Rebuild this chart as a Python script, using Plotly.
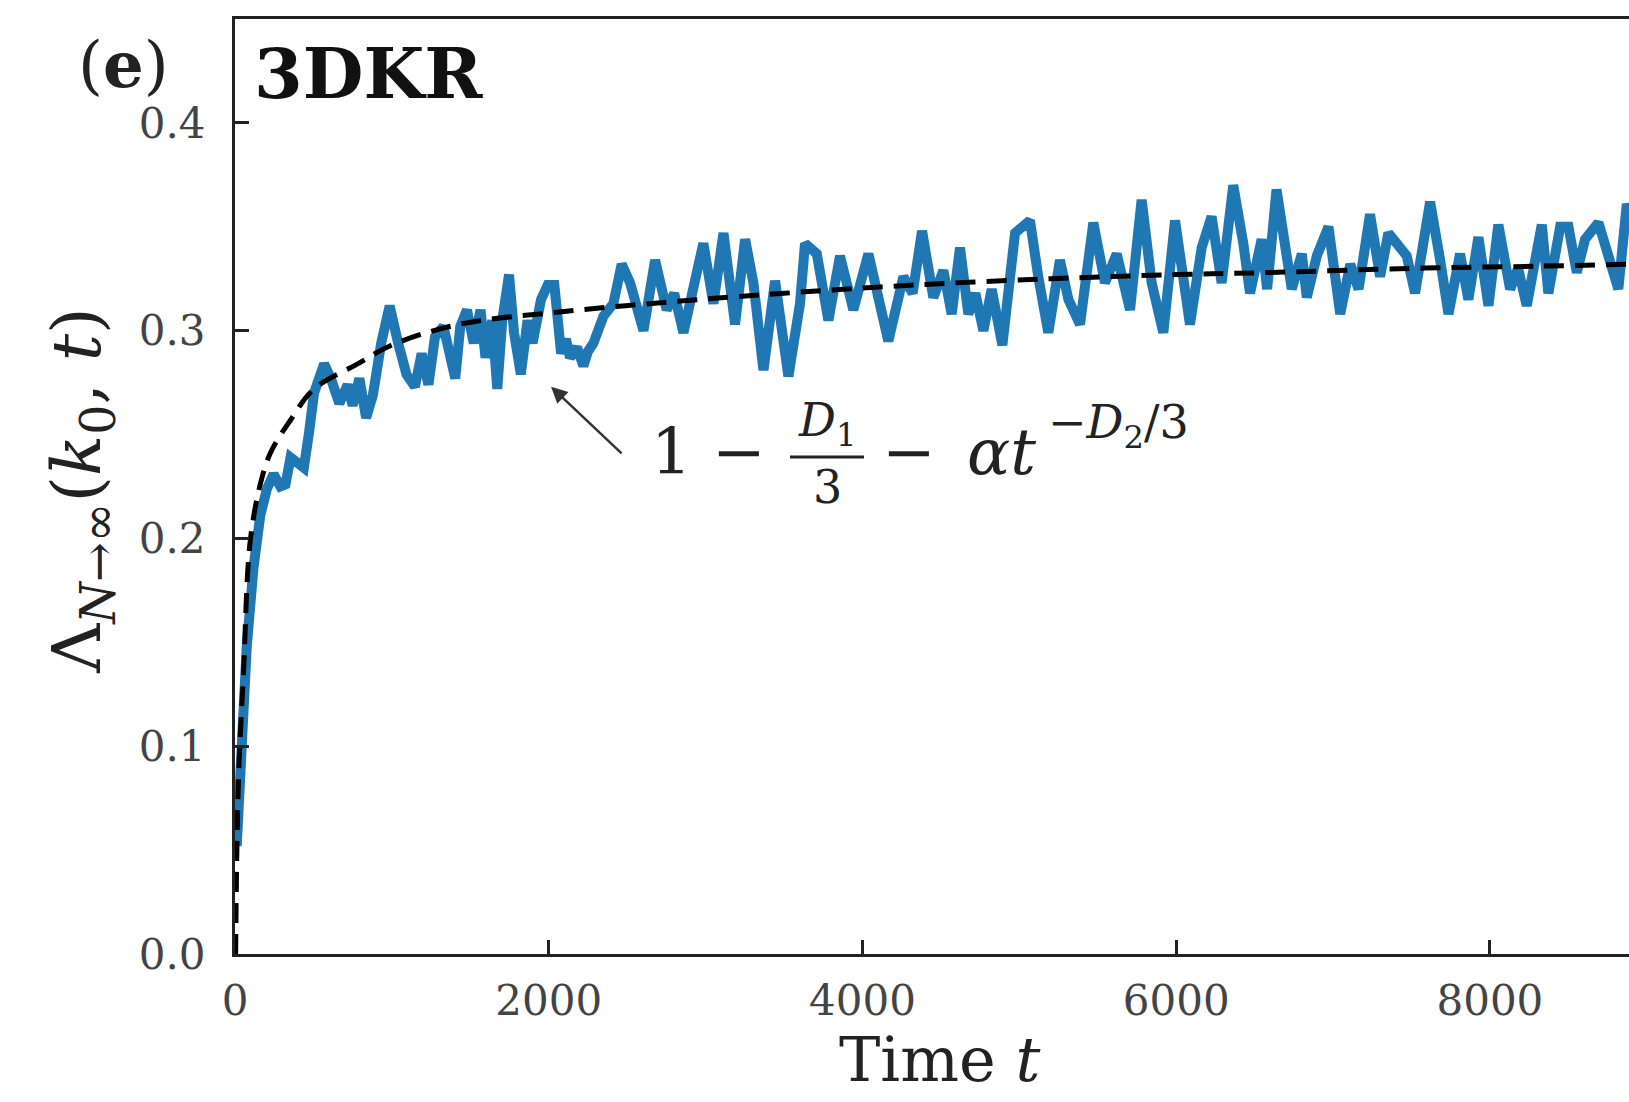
import plotly.graph_objects as go

# ---- data ----
t_data = [11, 43, 75, 118, 161, 204, 246, 289, 322, 354, 397, 439, 472, 504, 568, 611, 665, 718, 750, 793,
          836, 879, 932, 986, 1040, 1093, 1147, 1190, 1233, 1275, 1329, 1361, 1404, 1436, 1479, 1522, 1565,
          1597, 1640, 1672, 1704, 1747, 1779, 1822, 1865, 1897, 1951, 1994, 2036, 2079, 2110, 2136,
          2180, 2221, 2250, 2285, 2349, 2412, 2465, 2519, 2604, 2678, 2752, 2800, 2859, 2944, 2986, 3050, 3114,
          3188, 3252, 3305, 3369, 3443, 3528, 3602, 3634, 3709, 3783, 3857, 3942, 4038, 4100, 4165, 4261, 4320,
          4380, 4452, 4516, 4569, 4622, 4675, 4720, 4771, 4824, 4892, 4973, 5068, 5121, 5185, 5259, 5313, 5387,
          5472, 5546, 5621, 5706, 5780, 5844, 5918, 5993, 6088, 6163, 6226, 6290, 6364, 6428, 6471, 6545, 6580,
          6640, 6737, 6801, 6833, 6897, 6971, 7046, 7110, 7163, 7236, 7300, 7353, 7406, 7470, 7523, 7619, 7683,
          7736, 7810, 7863, 7927, 7991, 8054, 8129, 8180, 8235, 8331, 8373, 8448, 8501, 8554, 8607, 8692, 8745,
          8819, 8873, 8920]
lam_data = [0.052, 0.110, 0.148, 0.186, 0.211, 0.224, 0.231, 0.225, 0.226, 0.239, 0.236, 0.234, 0.251, 0.270,
            0.284, 0.277, 0.265, 0.274, 0.264, 0.277, 0.258, 0.269, 0.294, 0.312, 0.294, 0.279, 0.273, 0.289,
            0.274, 0.297, 0.302, 0.289, 0.277, 0.302, 0.310, 0.294, 0.310, 0.287, 0.305, 0.272, 0.305, 0.327,
            0.299, 0.279, 0.305, 0.294, 0.315, 0.322, 0.322, 0.289, 0.296, 0.287,
            0.292, 0.283, 0.290, 0.294, 0.307, 0.313, 0.332, 0.323, 0.300, 0.334, 0.310, 0.318, 0.299, 0.328,
            0.342, 0.313, 0.347, 0.303, 0.344, 0.323, 0.281, 0.324, 0.278, 0.313, 0.342, 0.337, 0.305, 0.336,
            0.310, 0.337, 0.318, 0.295, 0.326, 0.318, 0.348, 0.316, 0.329, 0.308, 0.340, 0.308, 0.318, 0.300,
            0.320, 0.293, 0.347, 0.353, 0.326, 0.299, 0.334, 0.315, 0.303, 0.352, 0.323, 0.337, 0.310, 0.363,
            0.323, 0.299, 0.353, 0.303, 0.340, 0.355, 0.323, 0.370, 0.342, 0.318, 0.344, 0.320, 0.368, 0.320,
            0.337, 0.316, 0.336, 0.350, 0.308, 0.332, 0.320, 0.356, 0.326, 0.347, 0.342, 0.336, 0.318, 0.362,
            0.334, 0.308, 0.337, 0.315, 0.345, 0.312, 0.351, 0.320, 0.330, 0.312, 0.351, 0.318, 0.350, 0.350,
            0.328, 0.344, 0.352, 0.339, 0.320, 0.361, 0.350]

t_fit = [4, 12, 25, 54, 96, 161, 225, 354, 504, 782, 997, 1425, 2069, 2800, 3500, 4335, 5200, 6000,
         6600, 7500, 8300, 8900]
lam_fit = [0.0, 0.05, 0.09, 0.135, 0.198, 0.226, 0.241, 0.257, 0.272, 0.284, 0.293, 0.303, 0.309, 0.314,
           0.318, 0.322, 0.325, 0.327, 0.328, 0.330, 0.331, 0.332]

x_ticks = [0, 2000, 4000, 6000, 8000]
y_ticks = [0.0, 0.1, 0.2, 0.3, 0.4]

SERIF = "DejaVu Serif"

fig = go.Figure()
fig.add_trace(go.Scatter(x=t_data, y=lam_data, mode="lines",
                         line=dict(color="#1f77b4", width=10), showlegend=False))
fig.add_trace(go.Scatter(x=t_fit, y=lam_fit, mode="lines", line_shape="spline",
                         line=dict(color="black", width=5, dash="20px,11px"), showlegend=False))

fig.update_layout(
    width=1629, height=1102,
    margin=dict(l=235, r=0, t=19, b=148),
    paper_bgcolor="white", plot_bgcolor="white",
    font=dict(family=SERIF, color="#222"),
    xaxis=dict(range=[0, 8887], tickvals=x_ticks, ticktext=[str(v) for v in x_ticks],
               ticks="inside", ticklen=14, tickwidth=3, tickcolor="#222",
               showline=True, linewidth=3, linecolor="#222", mirror=True,
               showgrid=False, zeroline=False, tickfont=dict(size=42, family=SERIF, color="#444"),
               ticklabelstandoff=8),
    yaxis=dict(range=[0, 0.45], tickvals=y_ticks, ticktext=[f"{v:.1f}" for v in y_ticks],
               ticks="inside", ticklen=14, tickwidth=3, tickcolor="#222",
               showline=True, linewidth=3, linecolor="#222", mirror=False,
               showgrid=False, zeroline=False, tickfont=dict(size=42, family=SERIF, color="#444"),
               ticklabelstandoff=18),
)

ann = []
ann.append(dict(xref="paper", yref="paper", x=0.5057, y=-0.113, xanchor="center", yanchor="middle",
                text="Time <i>t</i>", showarrow=False, font=dict(size=62, family=SERIF, color="#222")))
ann.append(dict(xref="paper", yref="paper", x=-0.110, y=0.495, xanchor="center", yanchor="middle",
                textangle=-90,
                text="Λ<sub><i>N</i>→∞</sub>(<i>k</i><sub>0</sub>, <i>t</i>)",
                showarrow=False, font=dict(size=68, family=SERIF, color="#222")))
ann.append(dict(xref="paper", yref="paper", x=-0.080, y=0.951, xanchor="center", yanchor="middle",
                text="(<b>e</b>)", showarrow=False, font=dict(size=64, family=SERIF, color="#222")))
ann.append(dict(xref="paper", yref="paper", x=0.0122, y=0.942, xanchor="left", yanchor="middle",
                text="<b>3DKR</b>", showarrow=False, font=dict(size=70, family=SERIF, color="#111")))
# arrow
ann.append(dict(x=2015, y=0.273, xref="x", yref="y", ax=72, ay=68, text="", showarrow=True,
                arrowhead=2, arrowsize=1.3, arrowwidth=2.5, arrowcolor="#333"))
# formula pieces
fs = 64
ann.append(dict(xref="paper", yref="paper", x=(649 - 235) / 1394, y=(954 - 452) / 935,
                xanchor="left", yanchor="middle", text="1 −", showarrow=False,
                font=dict(size=fs, family=SERIF, color="#222")))
ann.append(dict(xref="paper", yref="paper", x=(827 - 235) / 1394, y=(954 - 424) / 935,
                xanchor="center", yanchor="middle", text="<i>D</i><sub>1</sub>", showarrow=False,
                font=dict(size=46, family=SERIF, color="#222")))
ann.append(dict(xref="paper", yref="paper", x=(827 - 235) / 1394, y=(954 - 487) / 935,
                xanchor="center", yanchor="middle", text="3", showarrow=False,
                font=dict(size=46, family=SERIF, color="#222")))
ann.append(dict(xref="paper", yref="paper", x=(880 - 235) / 1394, y=(954 - 452) / 935,
                xanchor="left", yanchor="middle", text="−", showarrow=False,
                font=dict(size=fs, family=SERIF, color="#222")))
ann.append(dict(xref="paper", yref="paper", x=(965 - 235) / 1394, y=(954 - 452) / 935,
                xanchor="left", yanchor="middle", text="<i>αt</i>", showarrow=False,
                font=dict(size=fs, family=SERIF, color="#222")))
ann.append(dict(xref="paper", yref="paper", x=(1046 - 235) / 1394, y=(954 - 425) / 935,
                xanchor="left", yanchor="middle", text="−<i>D</i><sub>2</sub>/3", showarrow=False,
                font=dict(size=46, family=SERIF, color="#222")))
fig.update_layout(annotations=ann)

# fraction bar
fig.add_shape(type="line", xref="paper", yref="paper",
              x0=(790 - 235) / 1394, x1=(864 - 235) / 1394,
              y0=(954 - 457) / 935, y1=(954 - 457) / 935,
              line=dict(color="#222", width=3))

fig.write_html("out.html")
